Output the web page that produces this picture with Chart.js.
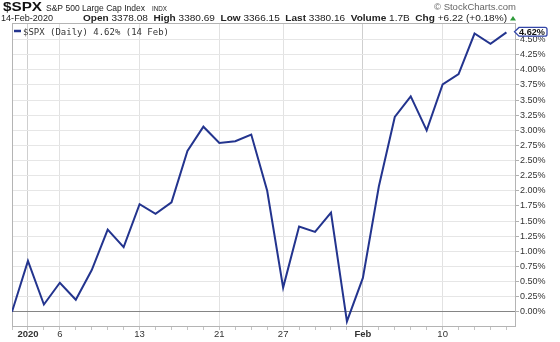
<!DOCTYPE html>
<html>
<head>
<meta charset="utf-8">
<script src="https://cdn.jsdelivr.net/npm/chart.js@4.4.1/dist/chart.umd.min.js"></script>
<style>
  html, body { margin: 0; padding: 0; background: #fff; }
  #myChart { display: block; }
</style>
</head>
<body>
<canvas id="myChart" width="560" height="342"></canvas>
<script>
// trading days, Dec 31 2019 .. Feb 14 2020
var dates = ['2019-12-31',
  '2020-01-02', '2020-01-03', '2020-01-06', '2020-01-07', '2020-01-08', '2020-01-09', '2020-01-10',
  '2020-01-13', '2020-01-14', '2020-01-15', '2020-01-16', '2020-01-17',
  '2020-01-21', '2020-01-22', '2020-01-23', '2020-01-24',
  '2020-01-27', '2020-01-28', '2020-01-29', '2020-01-30', '2020-01-31',
  '2020-02-03', '2020-02-04', '2020-02-05', '2020-02-06', '2020-02-07',
  '2020-02-10', '2020-02-11', '2020-02-12', '2020-02-13', '2020-02-14'];

// % change of $SPX since Dec 31
var pctChange = [0.00,
  0.84, 0.12, 0.48, 0.20, 0.69, 1.36, 1.07,
  1.78, 1.62, 1.81, 2.66, 3.06,
  2.79, 2.82, 2.93, 2.00,
  0.40, 1.41, 1.32, 1.64, -0.16,
  0.56, 2.07, 3.22, 3.56, 3.00,
  3.76, 3.93, 4.60, 4.43, 4.62];

// x axis labels (date -> text), bold ones mark year / month
var xTickLabels = {
  '2020-01-02': '2020', '2020-01-06': '6', '2020-01-13': '13', '2020-01-21': '21',
  '2020-01-27': '27', '2020-02-03': 'Feb', '2020-02-10': '10'
};
var boldLabels = ['2020', 'Feb'];

var yTicks = [0, 0.25, 0.5, 0.75, 1, 1.25, 1.5, 1.75, 2, 2.25, 2.5, 2.75, 3, 3.25, 3.5, 3.75, 4, 4.25, 4.5];

var lineColor = '#23348e';
var FONT = "'Liberation Sans', Arial, sans-serif";

function labelAt(i) {
    return xTickLabels[dates[i]] || '';
}

// draw text squeezed/stretched to a given width
function fitText(ctx, text, x, y, w, font, color) {
    ctx.font = font;
    var nat = ctx.measureText(text).width;
    ctx.save();
    ctx.translate(x, y);
    ctx.scale(w / nat, 1);
    ctx.fillStyle = color;
    ctx.textAlign = 'left';
    ctx.textBaseline = 'alphabetic';
    ctx.fillText(text, 0, 0);
    ctx.restore();
}

var decor = {
    id: 'decor',
    beforeDatasetsDraw: function (chart) {
        var ctx = chart.ctx, a = chart.chartArea;
        ctx.save();
        ctx.strokeStyle = '#b4b4b4';
        ctx.lineWidth = 1;
        ctx.strokeRect(Math.round(a.left) + 0.5, Math.round(a.top) + 0.5,
            Math.round(a.right - a.left) - 1, Math.round(a.bottom - a.top));
        ctx.restore();
    },
    afterDraw: function (chart) {
        var ctx = chart.ctx;
        var N = '9.5px ' + FONT, B = 'bold 9.5px ' + FONT;

        // header line 1
        fitText(ctx, '$SPX', 3, 11, 39, 'bold 12.5px ' + FONT, '#111');
        fitText(ctx, 'S&P 500 Large Cap Index', 46, 10.5, 99, N, '#222');
        fitText(ctx, 'INDX', 152, 10.5, 15, '8px ' + FONT, '#222');
        fitText(ctx, '\u00a9 StockCharts.com', 434, 10, 82, N, '#666');

        // header line 2
        fitText(ctx, '14-Feb-2020', 1, 20.5, 52, N, '#222');
        var runs = [['Open', B], [' 3378.08  ', N], ['High', B], [' 3380.69  ', N],
            ['Low', B], [' 3366.15  ', N], ['Last', B], [' 3380.16  ', N],
            ['Volume', B], [' 1.7B  ', N], ['Chg', B], [' +6.22 (+0.18%)', N]];
        var total = 0;
        runs.forEach(function (r) { ctx.font = r[1]; total += ctx.measureText(r[0]).width; });
        var x0 = 83, x1 = 507, sx = (x1 - x0) / total, x = x0;
        runs.forEach(function (r) {
            ctx.font = r[1];
            var w = ctx.measureText(r[0]).width * sx;
            fitText(ctx, r[0], x, 20.5, w, r[1], '#222');
            x += w;
        });
        // green up triangle
        ctx.save();
        ctx.fillStyle = '#2e9a3a';
        ctx.beginPath();
        ctx.moveTo(510, 20.5); ctx.lineTo(516, 20.5); ctx.lineTo(513, 16); ctx.closePath();
        ctx.fill();
        ctx.restore();

        // legend
        ctx.save();
        ctx.strokeStyle = lineColor;
        ctx.lineWidth = 2.5;
        ctx.beginPath(); ctx.moveTo(14, 31); ctx.lineTo(21, 31); ctx.stroke();
        ctx.restore();
        fitText(ctx, '$SPX (Daily) ' + pctChange[pctChange.length - 1].toFixed(2) + '% (14 Feb)',
            23, 34.5, 146, "9.5px 'DejaVu Sans Mono', monospace", '#333');

        // last value tag on the right axis
        var ys = chart.scales.y;
        var cy = ys.getPixelForValue(pctChange[pctChange.length - 1]) - 0.5;
        var h = 4.4, l = 514.5, r = 547;
        ctx.save();
        ctx.beginPath();
        ctx.moveTo(l, cy);
        ctx.lineTo(l + 4.5, cy - h);
        ctx.lineTo(r - 2, cy - h);
        ctx.quadraticCurveTo(r, cy - h, r, cy - h + 2);
        ctx.lineTo(r, cy + h - 2);
        ctx.quadraticCurveTo(r, cy + h, r - 2, cy + h);
        ctx.lineTo(l + 4.5, cy + h);
        ctx.closePath();
        ctx.fillStyle = '#fff';
        ctx.fill();
        ctx.strokeStyle = '#3346a8';
        ctx.lineWidth = 1.3;
        ctx.stroke();
        ctx.restore();
        fitText(ctx, pctChange[pctChange.length - 1].toFixed(2) + '%', 519, cy + 3.4, 26, B, '#111');
    }
};

document.addEventListener('DOMContentLoaded', function () {
    var ctx = document.getElementById('myChart').getContext('2d');
    var myChart = new Chart(ctx, {
        type: 'line',
        data: {
            datasets: [{
                label: '$SPX (Daily)',
                data: pctChange.map(function (v, i) { return { x: i, y: v }; }),
                borderColor: lineColor,
                borderWidth: 2,
                pointRadius: 0,
                tension: 0,
                fill: false
            }]
        },
        options: {
            responsive: false,
            devicePixelRatio: 1,
            animation: false,
            layout: { padding: { top: 23, left: 12, right: 0, bottom: 0 } },
            plugins: { legend: { display: false }, tooltip: { enabled: false } },
            scales: {
                x: {
                    type: 'linear',
                    min: 0,
                    max: 31.6,
                    afterBuildTicks: function (scale) {
                        scale.ticks = dates.map(function (d, i) { return { value: i }; });
                    },
                    afterFit: function (scale) { scale.height = 16; },
                    border: { display: false },
                    grid: {
                        color: function (c) {
                            var t = c.tick ? labelAt(c.tick.value) : '';
                            if (!t) return 'rgba(0,0,0,0)';
                            return boldLabels.indexOf(t) >= 0 ? '#cfcfcf' : '#e2e2e2';
                        },
                        tickColor: '#c4c4c4',
                        tickLength: 4,
                        lineWidth: 1
                    },
                    ticks: {
                        autoSkip: false,
                        maxRotation: 0,
                        padding: -1,
                        color: '#333',
                        font: function (c) {
                            var t = c.tick ? labelAt(c.tick.value) : '';
                            return { family: FONT, size: 9.5, weight: boldLabels.indexOf(t) >= 0 ? 'bold' : 'normal' };
                        },
                        callback: function (v) { return labelAt(v); }
                    }
                },
                y: {
                    position: 'right',
                    min: -0.235,
                    max: 4.774,
                    afterBuildTicks: function (scale) {
                        scale.ticks = yTicks.map(function (v) { return { value: v }; });
                    },
                    afterFit: function (scale) { scale.width = 44; },
                    border: { display: false },
                    grid: {
                        color: function (c) {
                            return (c.tick && c.tick.value === 0) ? '#858585' : '#e6e6e6';
                        },
                        tickColor: '#b0b0b0',
                        tickLength: 3,
                        lineWidth: 1
                    },
                    ticks: {
                        padding: 1,
                        color: '#333',
                        font: { family: FONT, size: 9 },
                        callback: function (v) { return v.toFixed(2) + '%'; }
                    }
                }
            }
        },
        plugins: [decor]
    });
});
</script>
</body>
</html>
